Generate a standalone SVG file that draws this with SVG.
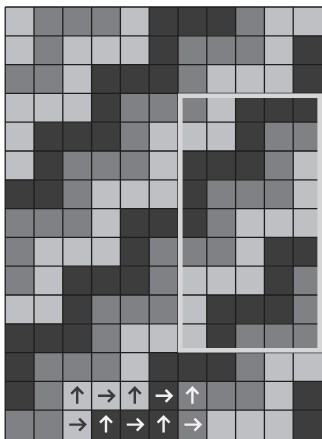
<svg xmlns="http://www.w3.org/2000/svg" width="322" height="439" viewBox="0 0 322 439">
<style>
.L{fill:#bfc0c4}
.M{fill:#808185}
.D{fill:#3d3d3d}
.cells rect{width:28.8px;height:28.8px}
.grid{fill:none;stroke:#1e1e1e;stroke-width:1.3}
.aw{stroke:#f2f2f2}
.ak{stroke:#3a3a3a}
.box{fill:none;stroke:#d6d6d6;stroke-width:4.6}
</style>
<defs>
<path id="up" d="M0,8 V-8 M-6,-2 L0,-8 L6,-2" fill="none" stroke-width="2.4"/>
</defs>
<rect width="322" height="439" fill="#ffffff"/>
<g class="cells" transform="translate(5.2,7)">
<g id="row0"><rect class="L" x="0" y="0" width="28.8" height="28.8"/><rect class="M" x="28.8" y="0" width="28.8" height="28.8"/><rect class="M" x="57.6" y="0" width="28.8" height="28.8"/><rect class="M" x="86.4" y="0" width="28.8" height="28.8"/><rect class="L" x="115.2" y="0" width="28.8" height="28.8"/><rect class="D" x="144" y="0" width="28.8" height="28.8"/><rect class="D" x="172.8" y="0" width="28.8" height="28.8"/><rect class="D" x="201.6" y="0" width="28.8" height="28.8"/><rect class="M" x="230.4" y="0" width="28.8" height="28.8"/><rect class="L" x="259.2" y="0" width="28.8" height="28.8"/><rect class="L" x="288" y="0" width="28.8" height="28.8"/></g>
<g id="row1"><rect class="L" x="0" y="28.8" width="28.8" height="28.8"/><rect class="M" x="28.8" y="28.8" width="28.8" height="28.8"/><rect class="L" x="57.6" y="28.8" width="28.8" height="28.8"/><rect class="L" x="86.4" y="28.8" width="28.8" height="28.8"/><rect class="L" x="115.2" y="28.8" width="28.8" height="28.8"/><rect class="D" x="144" y="28.8" width="28.8" height="28.8"/><rect class="M" x="172.8" y="28.8" width="28.8" height="28.8"/><rect class="M" x="201.6" y="28.8" width="28.8" height="28.8"/><rect class="M" x="230.4" y="28.8" width="28.8" height="28.8"/><rect class="L" x="259.2" y="28.8" width="28.8" height="28.8"/><rect class="D" x="288" y="28.8" width="28.8" height="28.8"/></g>
<g id="row2"><rect class="M" x="0" y="57.6" width="28.8" height="28.8"/><rect class="M" x="28.8" y="57.6" width="28.8" height="28.8"/><rect class="L" x="57.6" y="57.6" width="28.8" height="28.8"/><rect class="D" x="86.4" y="57.6" width="28.8" height="28.8"/><rect class="D" x="115.2" y="57.6" width="28.8" height="28.8"/><rect class="D" x="144" y="57.6" width="28.8" height="28.8"/><rect class="M" x="172.8" y="57.6" width="28.8" height="28.8"/><rect class="L" x="201.6" y="57.6" width="28.8" height="28.8"/><rect class="L" x="230.4" y="57.6" width="28.8" height="28.8"/><rect class="L" x="259.2" y="57.6" width="28.8" height="28.8"/><rect class="D" x="288" y="57.6" width="28.8" height="28.8"/></g>
<g id="row3"><rect class="L" x="0" y="86.4" width="28.8" height="28.8"/><rect class="L" x="28.8" y="86.4" width="28.8" height="28.8"/><rect class="L" x="57.6" y="86.4" width="28.8" height="28.8"/><rect class="D" x="86.4" y="86.4" width="28.8" height="28.8"/><rect class="M" x="115.2" y="86.4" width="28.8" height="28.8"/><rect class="M" x="144" y="86.4" width="28.8" height="28.8"/><rect class="M" x="172.8" y="86.4" width="28.8" height="28.8"/><rect class="L" x="201.6" y="86.4" width="28.8" height="28.8"/><rect class="D" x="230.4" y="86.4" width="28.8" height="28.8"/><rect class="D" x="259.2" y="86.4" width="28.8" height="28.8"/><rect class="D" x="288" y="86.4" width="28.8" height="28.8"/></g>
<g id="row4"><rect class="L" x="0" y="115.2" width="28.8" height="28.8"/><rect class="D" x="28.8" y="115.2" width="28.8" height="28.8"/><rect class="D" x="57.6" y="115.2" width="28.8" height="28.8"/><rect class="D" x="86.4" y="115.2" width="28.8" height="28.8"/><rect class="M" x="115.2" y="115.2" width="28.8" height="28.8"/><rect class="L" x="144" y="115.2" width="28.8" height="28.8"/><rect class="L" x="172.8" y="115.2" width="28.8" height="28.8"/><rect class="L" x="201.6" y="115.2" width="28.8" height="28.8"/><rect class="D" x="230.4" y="115.2" width="28.8" height="28.8"/><rect class="M" x="259.2" y="115.2" width="28.8" height="28.8"/><rect class="M" x="288" y="115.2" width="28.8" height="28.8"/></g>
<g id="row5"><rect class="L" x="0" y="144" width="28.8" height="28.8"/><rect class="D" x="28.8" y="144" width="28.8" height="28.8"/><rect class="M" x="57.6" y="144" width="28.8" height="28.8"/><rect class="M" x="86.4" y="144" width="28.8" height="28.8"/><rect class="M" x="115.2" y="144" width="28.8" height="28.8"/><rect class="L" x="144" y="144" width="28.8" height="28.8"/><rect class="D" x="172.8" y="144" width="28.8" height="28.8"/><rect class="D" x="201.6" y="144" width="28.8" height="28.8"/><rect class="D" x="230.4" y="144" width="28.8" height="28.8"/><rect class="M" x="259.2" y="144" width="28.8" height="28.8"/><rect class="L" x="288" y="144" width="28.8" height="28.8"/></g>
<g id="row6"><rect class="D" x="0" y="172.8" width="28.8" height="28.8"/><rect class="D" x="28.8" y="172.8" width="28.8" height="28.8"/><rect class="M" x="57.6" y="172.8" width="28.8" height="28.8"/><rect class="L" x="86.4" y="172.8" width="28.8" height="28.8"/><rect class="L" x="115.2" y="172.8" width="28.8" height="28.8"/><rect class="L" x="144" y="172.8" width="28.8" height="28.8"/><rect class="D" x="172.8" y="172.8" width="28.8" height="28.8"/><rect class="M" x="201.6" y="172.8" width="28.8" height="28.8"/><rect class="M" x="230.4" y="172.8" width="28.8" height="28.8"/><rect class="M" x="259.2" y="172.8" width="28.8" height="28.8"/><rect class="L" x="288" y="172.8" width="28.8" height="28.8"/></g>
<g id="row7"><rect class="M" x="0" y="201.6" width="28.8" height="28.8"/><rect class="M" x="28.8" y="201.6" width="28.8" height="28.8"/><rect class="M" x="57.6" y="201.6" width="28.8" height="28.8"/><rect class="L" x="86.4" y="201.6" width="28.8" height="28.8"/><rect class="D" x="115.2" y="201.6" width="28.8" height="28.8"/><rect class="D" x="144" y="201.6" width="28.8" height="28.8"/><rect class="D" x="172.8" y="201.6" width="28.8" height="28.8"/><rect class="M" x="201.6" y="201.6" width="28.8" height="28.8"/><rect class="L" x="230.4" y="201.6" width="28.8" height="28.8"/><rect class="L" x="259.2" y="201.6" width="28.8" height="28.8"/><rect class="L" x="288" y="201.6" width="28.8" height="28.8"/></g>
<g id="row8"><rect class="M" x="0" y="230.4" width="28.8" height="28.8"/><rect class="L" x="28.8" y="230.4" width="28.8" height="28.8"/><rect class="L" x="57.6" y="230.4" width="28.8" height="28.8"/><rect class="L" x="86.4" y="230.4" width="28.8" height="28.8"/><rect class="D" x="115.2" y="230.4" width="28.8" height="28.8"/><rect class="M" x="144" y="230.4" width="28.8" height="28.8"/><rect class="M" x="172.8" y="230.4" width="28.8" height="28.8"/><rect class="M" x="201.6" y="230.4" width="28.8" height="28.8"/><rect class="L" x="230.4" y="230.4" width="28.8" height="28.8"/><rect class="D" x="259.2" y="230.4" width="28.8" height="28.8"/><rect class="D" x="288" y="230.4" width="28.8" height="28.8"/></g>
<g id="row9"><rect class="M" x="0" y="259.2" width="28.8" height="28.8"/><rect class="L" x="28.8" y="259.2" width="28.8" height="28.8"/><rect class="D" x="57.6" y="259.2" width="28.8" height="28.8"/><rect class="D" x="86.4" y="259.2" width="28.8" height="28.8"/><rect class="D" x="115.2" y="259.2" width="28.8" height="28.8"/><rect class="M" x="144" y="259.2" width="28.8" height="28.8"/><rect class="L" x="172.8" y="259.2" width="28.8" height="28.8"/><rect class="L" x="201.6" y="259.2" width="28.8" height="28.8"/><rect class="L" x="230.4" y="259.2" width="28.8" height="28.8"/><rect class="D" x="259.2" y="259.2" width="28.8" height="28.8"/><rect class="M" x="288" y="259.2" width="28.8" height="28.8"/></g>
<g id="row10"><rect class="L" x="0" y="288" width="28.8" height="28.8"/><rect class="L" x="28.8" y="288" width="28.8" height="28.8"/><rect class="D" x="57.6" y="288" width="28.8" height="28.8"/><rect class="M" x="86.4" y="288" width="28.8" height="28.8"/><rect class="M" x="115.2" y="288" width="28.8" height="28.8"/><rect class="M" x="144" y="288" width="28.8" height="28.8"/><rect class="L" x="172.8" y="288" width="28.8" height="28.8"/><rect class="D" x="201.6" y="288" width="28.8" height="28.8"/><rect class="D" x="230.4" y="288" width="28.8" height="28.8"/><rect class="D" x="259.2" y="288" width="28.8" height="28.8"/><rect class="M" x="288" y="288" width="28.8" height="28.8"/></g>
<g id="row11"><rect class="D" x="0" y="316.8" width="28.8" height="28.8"/><rect class="D" x="28.8" y="316.8" width="28.8" height="28.8"/><rect class="D" x="57.6" y="316.8" width="28.8" height="28.8"/><rect class="M" x="86.4" y="316.8" width="28.8" height="28.8"/><rect class="L" x="115.2" y="316.8" width="28.8" height="28.8"/><rect class="L" x="144" y="316.8" width="28.8" height="28.8"/><rect class="L" x="172.8" y="316.8" width="28.8" height="28.8"/><rect class="D" x="201.6" y="316.8" width="28.8" height="28.8"/><rect class="M" x="230.4" y="316.8" width="28.8" height="28.8"/><rect class="M" x="259.2" y="316.8" width="28.8" height="28.8"/><rect class="M" x="288" y="316.8" width="28.8" height="28.8"/></g>
<g id="row12"><rect class="D" x="0" y="345.6" width="28.8" height="28.8"/><rect class="M" x="28.8" y="345.6" width="28.8" height="28.8"/><rect class="M" x="57.6" y="345.6" width="28.8" height="28.8"/><rect class="M" x="86.4" y="345.6" width="28.8" height="28.8"/><rect class="L" x="115.2" y="345.6" width="28.8" height="28.8"/><rect class="D" x="144" y="345.6" width="28.8" height="28.8"/><rect class="D" x="172.8" y="345.6" width="28.8" height="28.8"/><rect class="D" x="201.6" y="345.6" width="28.8" height="28.8"/><rect class="M" x="230.4" y="345.6" width="28.8" height="28.8"/><rect class="L" x="259.2" y="345.6" width="28.8" height="28.8"/><rect class="L" x="288" y="345.6" width="28.8" height="28.8"/></g>
<g id="row13"><rect class="D" x="0" y="374.4" width="28.8" height="28.8"/><rect class="M" x="28.8" y="374.4" width="28.8" height="28.8"/><rect class="L" x="57.6" y="374.4" width="28.8" height="28.8"/><rect class="L" x="86.4" y="374.4" width="28.8" height="28.8"/><rect class="L" x="115.2" y="374.4" width="28.8" height="28.8"/><rect class="D" x="144" y="374.4" width="28.8" height="28.8"/><rect class="M" x="172.8" y="374.4" width="28.8" height="28.8"/><rect class="M" x="201.6" y="374.4" width="28.8" height="28.8"/><rect class="M" x="230.4" y="374.4" width="28.8" height="28.8"/><rect class="L" x="259.2" y="374.4" width="28.8" height="28.8"/><rect class="D" x="288" y="374.4" width="28.8" height="28.8"/></g>
<g id="row14"><rect class="M" x="0" y="403.2" width="28.8" height="28.8"/><rect class="M" x="28.8" y="403.2" width="28.8" height="28.8"/><rect class="L" x="57.6" y="403.2" width="28.8" height="28.8"/><rect class="D" x="86.4" y="403.2" width="28.8" height="28.8"/><rect class="D" x="115.2" y="403.2" width="28.8" height="28.8"/><rect class="D" x="144" y="403.2" width="28.8" height="28.8"/><rect class="M" x="172.8" y="403.2" width="28.8" height="28.8"/><rect class="L" x="201.6" y="403.2" width="28.8" height="28.8"/><rect class="L" x="230.4" y="403.2" width="28.8" height="28.8"/><rect class="L" x="259.2" y="403.2" width="28.8" height="28.8"/><rect class="D" x="288" y="403.2" width="28.8" height="28.8"/></g>
</g>
<path class="grid" d="M5.2,7V439M34,7V439M62.8,7V439M91.6,7V439M120.4,7V439M149.2,7V439M178,7V439M206.8,7V439M235.6,7V439M264.4,7V439M293.2,7V439M5.2,7H322M5.2,35.8H322M5.2,64.6H322M5.2,93.4H322M5.2,122.2H322M5.2,151H322M5.2,179.8H322M5.2,208.6H322M5.2,237.4H322M5.2,266.2H322M5.2,295H322M5.2,323.8H322M5.2,352.6H322M5.2,381.4H322M5.2,410.2H322"/>
<rect id="highlight" class="box" x="180.3" y="95.7" width="139.4" height="254.6"/>
<g id="arrows">
<use href="#up" class="ak" transform="translate(77.2,395.8)"/>
<use href="#up" class="ak" transform="translate(106,395.8) rotate(90)"/>
<use href="#up" class="ak" transform="translate(134.8,395.8)"/>
<use href="#up" class="aw" transform="translate(163.6,395.8) rotate(90)"/>
<use href="#up" class="aw" transform="translate(192.4,395.8)"/>
<use href="#up" class="ak" transform="translate(77.2,424.6) rotate(90)"/>
<use href="#up" class="aw" transform="translate(106,424.6)"/>
<use href="#up" class="aw" transform="translate(134.8,424.6) rotate(90)"/>
<use href="#up" class="aw" transform="translate(163.6,424.6)"/>
<use href="#up" class="aw" transform="translate(192.4,424.6) rotate(90)"/>
</g>
</svg>
